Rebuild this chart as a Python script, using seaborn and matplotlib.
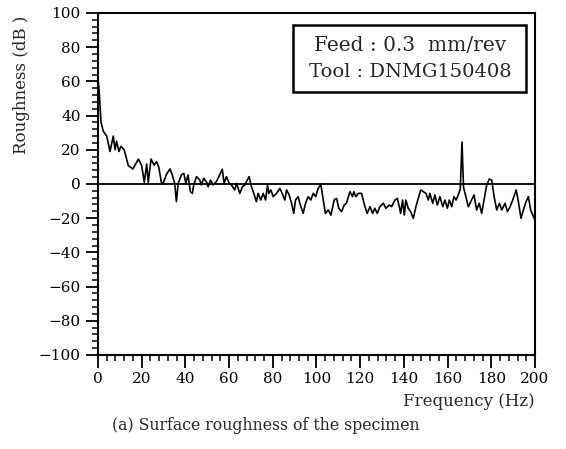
import numpy as np
import seaborn as sns
import matplotlib
matplotlib.use("Agg")
import matplotlib.pyplot as plt
from matplotlib.patches import Rectangle
from matplotlib.ticker import MultipleLocator

# Spectrum (Hz, dB)
freq = [0, 0.5, 1.4, 2.4, 4, 5.5, 7, 7.8, 8.5, 9.6, 10.5, 12, 13.9, 16, 18.5,
        20, 21.2, 22.3, 23, 24.3, 25.7, 26.8, 27.8, 29, 29.7, 31.4, 33, 34,
        35.1, 35.9, 36.7, 38.2, 39.3, 40.2, 41.2, 42.3, 43.2, 43.8, 45.1, 46.6,
        47.3, 48.4, 49.6, 50.4, 51.5, 52.7, 54.2, 55.7, 56.9, 57.7, 58.8, 60,
        61.1, 62.6, 63.4, 64.9, 66.1, 67.2, 68.3, 69.2, 70, 71.8, 72.5, 73.3,
        74.5, 75.6, 76.7, 77.6, 78.2, 79.1, 80.2, 81.7, 83.2, 84.3, 85.5, 86.3,
        87.5, 88.6, 89.6, 90.4, 91.6, 92.4, 93.9, 95, 96.2, 97.4, 98.5, 99.6,
        100.8, 102, 103.1, 104.1, 105.4, 106.6, 108.1, 109.2, 110.2, 111.5,
        112.7, 113.7, 115.3, 116.5, 117.1, 118, 119.1, 120.6, 122.2, 123.2,
        124.5, 125.7, 126.7, 127.8, 129, 130.6, 131.8, 133.3, 134.4, 135.9,
        137, 137.9, 138.5, 139.4, 140.2, 140.9, 142, 143.1, 144.3, 145.5,
        146.6, 147.7, 148.9, 150.1, 151.2, 151.9, 153.2, 154.2, 155.3, 156.5,
        157.8, 158.8, 159.9, 160.8, 161.9, 162.9, 163.9, 164.9, 165.8, 166.6,
        167.3, 168, 169.5, 171, 172.1, 173.3, 174.5, 175.6, 176.7, 177.9,
        179.1, 180.2, 181.3, 182.5, 183.7, 184.8, 186.3, 187.4, 188.6, 189.8,
        191.4, 192.4, 193.6, 194.7, 195.9, 197, 198, 199.3, 200]
rough = [62, 55, 36, 31, 28, 19, 28, 20, 25, 19, 22, 20, 10.7, 8.8, 14.6,
         10.7, 1, 11.7, 1, 14.6, 11, 13, 10, 1, 0, 5.8, 8.8, 5.3,
         0.4, -10.3, 0.4, 5.3, 6.2, 0.4, 5.3, -4.5, -5.5, -0.6, 4.3, 2.3,
         -0.6, 3.3, 1.4, -1.6, 2.3, -0.6, 1.4, 5.3, 8.6, 0.4, 4.3, 0.4,
         -0.6, -3.5, 0.4, -5.5, -1.6, -0.6, 2.3, 4.3, -0.6, -7.4, -10.3, -5.5,
         -9.4, -5.5, -9.4, -0.6, -5.5, -3.5, -7.4, -5.5, -2.6, -5.5, -9.4, -3.5,
         -6.4, -11.3, -17.2, -9.4, -7.4, -11.3, -17.2, -11.3, -7.4, -9.4, -5.5, -7.4,
         -2.6, -0.2, -9.4, -17.2, -15.2, -18.2, -9.4, -8.4, -14.2, -16.2,
         -12.3, -11.3, -4.5, -7.4, -4.5, -7.4, -5.5, -5.5, -13.3, -17.2,
         -13.3, -17.2, -14.2, -17.2, -13.3, -11.3, -14.2, -12.3, -13.3, -9.4,
         -8.4, -13.3, -17.2, -9.4, -18.2, -9.4, -14.2, -16.2, -20.1, -13.3,
         -8.4, -3.5, -4.5, -5.5, -9.4, -5.5, -11.3, -6.4, -12.3, -7.4,
         -13.3, -9.4, -14.2, -9.4, -13.3, -7.4, -9.4, -6.4, -3, 24.5,
         -2, -5.5, -13.3, -9.4, -6.4, -15.2, -11.3, -17.2, -9.4, -0.6,
         2.9, 2.3, -7.4, -15.2, -11.3, -15.2, -11.3, -16.2, -13.3, -9.4,
         -3.5, -10.3, -20.1, -15.2, -10.3, -7.4, -15.2, -19.1, -21]

sns.set_style("ticks")
plt.rcParams["font.family"] = ["DejaVu Serif"]

fig = plt.figure(figsize=(5.66, 4.49), dpi=100)
ax = fig.add_axes([0.1731, 0.2094, 0.7721, 0.7617])

sns.lineplot(x=freq, y=rough, color="black", linewidth=1.2, ax=ax)
ax.axhline(0, color="black", linewidth=1.3)

ax.set_xlim(0, 200)
ax.set_ylim(-100, 100)
ax.xaxis.set_major_locator(MultipleLocator(20))
ax.xaxis.set_minor_locator(MultipleLocator(4))
ax.yaxis.set_major_locator(MultipleLocator(20))
ax.yaxis.set_minor_locator(MultipleLocator(4))
ax.tick_params(which="major", direction="out", length=9, width=1.3,
               labelsize=11, color="black", labelcolor="black")
ax.tick_params(which="minor", direction="out", length=4.5, width=1.1,
               color="black")
ax.set_yticklabels([f"{v:g}".replace("-", "\u2212") for v in ax.get_yticks()])
for s in ax.spines.values():
    s.set_linewidth(1.5)
    s.set_color("black")

# label box
ax.add_patch(Rectangle((0.446, 0.769), 0.533, 0.196, transform=ax.transAxes,
                       fill=False, edgecolor="black", linewidth=1.8))
ax.text(0.714, 0.904, "Feed : 0.3  mm/rev", transform=ax.transAxes,
        ha="center", va="center", fontsize=14.5)
ax.text(0.714, 0.827, "Tool : DNMG150408", transform=ax.transAxes,
        ha="center", va="center", fontsize=14)

ax.set_xlabel("")
ax.set_ylabel("")
fig.text(22 / 566, 1 - 85 / 449, "Roughness (dB )", rotation=90,
         ha="center", va="center", fontsize=12)
fig.text(535 / 566, 1 - 401 / 449, "Frequency (Hz)", ha="right",
         va="center", fontsize=12)
fig.text(266 / 566, 1 - 425 / 449, "(a) Surface roughness of the specimen",
         ha="center", va="center", fontsize=11.3)

fig.savefig("out.png", dpi=100, facecolor="white")
